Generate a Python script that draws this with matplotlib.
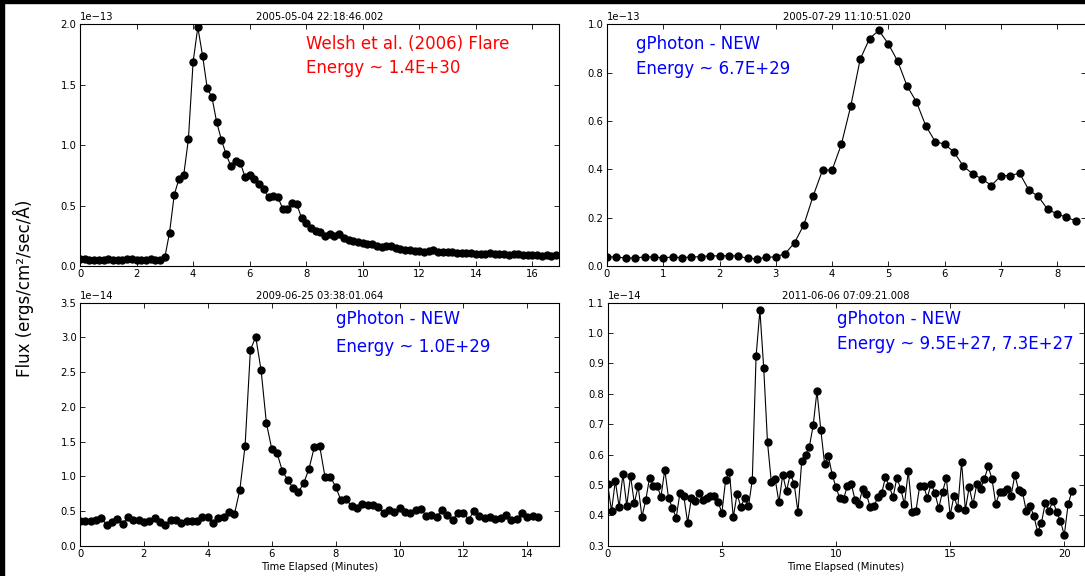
import numpy as np
import matplotlib
matplotlib.use("Agg")
import matplotlib.pyplot as plt
from matplotlib.patches import Rectangle
from matplotlib.ticker import MultipleLocator

# light curves, one point every 10 seconds (time axis in minutes)
cadence_min = 10.0 / 60.0

# 2005-05-04 flare, flux in units of 1e-13
tl_flux = [0.055, 0.058, 0.052, 0.048, 0.050, 0.052, 0.054, 0.050, 0.048, 0.053,
           0.055, 0.054, 0.050, 0.050, 0.052, 0.057, 0.050, 0.052,
           0.072, 0.276, 0.590, 0.720, 0.751, 1.049, 1.689, 1.976, 1.741, 1.471,
           1.396, 1.190, 1.046, 0.924, 0.828, 0.869, 0.855, 0.739, 0.753, 0.717,
           0.679, 0.635, 0.569, 0.582, 0.569, 0.475, 0.469, 0.524, 0.510, 0.400,
           0.353, 0.315, 0.290, 0.279, 0.251,
           0.262, 0.252, 0.262, 0.228, 0.215, 0.208, 0.198, 0.190, 0.186, 0.180,
           0.165, 0.158, 0.162, 0.166, 0.152, 0.140, 0.133, 0.133, 0.128, 0.125,
           0.118, 0.122, 0.130, 0.118, 0.115, 0.113, 0.112, 0.110, 0.108, 0.106,
           0.107, 0.103, 0.102, 0.100, 0.104, 0.100, 0.098, 0.096, 0.094, 0.098,
           0.096, 0.093, 0.090, 0.092, 0.088, 0.085, 0.087, 0.083, 0.088]

# 2005-07-29 flare, flux in units of 1e-13
tr_flux = [0.037, 0.038, 0.032, 0.034, 0.037, 0.038, 0.033, 0.038, 0.034, 0.038,
           0.038, 0.043, 0.041, 0.043, 0.041, 0.032, 0.029, 0.036, 0.038, 0.051,
           0.096, 0.171, 0.291, 0.398, 0.396, 0.504, 0.662, 0.855, 0.941, 0.975,
           0.919, 0.848, 0.745, 0.679, 0.580, 0.515, 0.504, 0.472, 0.413, 0.381,
           0.360, 0.333, 0.373, 0.374, 0.384, 0.314, 0.288, 0.234, 0.216, 0.201,
           0.187]

# 2009-06-25 flare, flux in units of 1e-14
bl_flux = [0.351, 0.351, 0.351, 0.370, 0.403, 0.298, 0.341, 0.389, 0.308, 0.418,
           0.365, 0.370, 0.346, 0.351, 0.403, 0.341, 0.298, 0.375, 0.370, 0.331,
           0.360, 0.360, 0.360, 0.418, 0.408, 0.331, 0.394, 0.418, 0.490, 0.456,
           0.798, 1.440, 2.823, 3.006, 2.530, 1.767, 1.397, 1.335, 1.076, 0.946,
           0.835, 0.773, 0.898, 1.109, 1.421, 1.436, 0.994, 0.994, 0.850, 0.654,
           0.668, 0.568, 0.547, 0.596, 0.582, 0.582, 0.557, 0.466, 0.519, 0.490,
           0.538, 0.490, 0.471, 0.510, 0.533, 0.432, 0.442, 0.418, 0.519, 0.442,
           0.375, 0.476, 0.471, 0.375, 0.505, 0.423, 0.399, 0.408, 0.380, 0.403,
           0.442, 0.375, 0.380, 0.466, 0.418, 0.432, 0.408]

# 2011-06-06 flares, flux in units of 1e-14
br_flux = [0.502, 0.414, 0.513, 0.428, 0.535, 0.432, 0.530, 0.440, 0.496, 0.395,
           0.450, 0.524, 0.497, 0.497, 0.461, 0.550, 0.456, 0.425, 0.392, 0.475,
           0.463, 0.376, 0.456, 0.448, 0.475, 0.451, 0.458, 0.462, 0.464, 0.445,
           0.408, 0.517, 0.542, 0.393, 0.471, 0.427, 0.458, 0.430, 0.517, 0.924,
           1.075, 0.886, 0.640, 0.510, 0.520, 0.443, 0.533, 0.480, 0.537, 0.504,
           0.411, 0.580, 0.599, 0.626, 0.696, 0.809, 0.682, 0.570, 0.595, 0.534,
           0.492, 0.456, 0.455, 0.497, 0.504, 0.451, 0.437, 0.488, 0.470, 0.426,
           0.431, 0.460, 0.473, 0.525, 0.496, 0.459, 0.524, 0.487, 0.437, 0.545,
           0.412, 0.414, 0.497, 0.497, 0.458, 0.504, 0.473, 0.423, 0.478, 0.522,
           0.401, 0.463, 0.424, 0.576, 0.418, 0.493, 0.436, 0.503, 0.487, 0.520,
           0.561, 0.519, 0.437, 0.476, 0.478, 0.487, 0.464, 0.533, 0.483, 0.478,
           0.414, 0.431, 0.398, 0.345, 0.376, 0.440, 0.415, 0.448, 0.411, 0.381,
           0.335, 0.436, 0.480]

titles = ["2005-05-04 22:18:46.002", "2005-07-29 11:10:51.020",
          "2009-06-25 03:38:01.064", "2011-06-06 07:09:21.008"]
notes = [("Welsh et al. (2006) Flare", "Energy ~ 1.4E+30"),
         ("gPhoton - NEW", "Energy ~ 6.7E+29"),
         ("gPhoton - NEW", "Energy ~ 1.0E+29"),
         ("gPhoton - NEW", "Energy ~ 9.5E+27, 7.3E+27")]
note_colors = ["red", "blue", "blue", "blue"]

W, H = 1085, 576
fig = plt.figure(figsize=(W / 100, H / 100), dpi=100)


def px_axes(left, top, right, bottom):
    return fig.add_axes([left / W, 1 - bottom / H, (right - left) / W, (bottom - top) / H])


panels = [
    # flux, exponent, axes box (px), xlim, ylim, xstep, ystep, note positions
    (tl_flux, -13, (80, 24.3, 559.3, 266), (0, 16.95), (0, 2.0), 2, 0.5,
     (0.4715, 0.897, 0.797)),
    (tr_flux, -13, (607, 24.3, 1086.3, 266), (0, 8.52), (0, 1.0), 1, 0.2,
     (0.0604, 0.897, 0.794)),
    (bl_flux, -14, (80, 302.7, 559.3, 545.7), (0, 15.0), (0, 3.5), 2, 0.5,
     (0.5335, 0.911, 0.798)),
    (br_flux, -14, (607.7, 302.7, 1083.7, 545.7), (0, 20.85), (0.3, 1.1), 5, 0.1,
     (0.481, 0.911, 0.811)),
]

for k, (flux, expo, box, xlim, ylim, xstep, ystep, npos) in enumerate(panels):
    ax = px_axes(*box)
    scale = 10.0 ** expo
    flux = np.array(flux) * scale
    t = np.arange(len(flux)) * cadence_min
    ax.plot(t, flux, "-o", color="black", lw=0.8, ms=5, mec="black", mfc="black")
    ax.set_xlim(*xlim)
    ax.set_ylim(ylim[0] * scale, ylim[1] * scale)
    ax.xaxis.set_major_locator(MultipleLocator(xstep))
    ax.yaxis.set_major_locator(MultipleLocator(ystep * scale))
    ax.ticklabel_format(axis="y", style="sci", scilimits=(expo, expo))
    ax.tick_params(direction="in", top=True, right=True, length=3.5, width=0.6,
                   labelsize=7.2, pad=2.5)
    ax.yaxis.get_offset_text().set_fontsize(7.2)
    for s in ax.spines.values():
        s.set_linewidth(0.8)
    ax.set_title(titles[k], fontsize=7.2, pad=3)
    if k >= 2:
        ax.set_xlabel("Time Elapsed (Minutes)", fontsize=7.2, labelpad=2)
    ax.text(npos[0], npos[1], notes[k][0], transform=ax.transAxes, color=note_colors[k],
            fontsize=12, ha="left", va="baseline")
    ax.text(npos[0], npos[2], notes[k][1], transform=ax.transAxes, color=note_colors[k],
            fontsize=12, ha="left", va="baseline")

fig.text(23 / W, 0.5, "Flux (ergs/cm²/sec/Å)", rotation=90, fontsize=12,
         ha="center", va="center")

# dark frame left over from the screen grab
fig.add_artist(Rectangle((0, 1 - 3 / H), 1, 3 / H, transform=fig.transFigure,
                         color="black", zorder=10))
fig.add_artist(Rectangle((0, 0), 3.5 / W, 1, transform=fig.transFigure,
                         color="black", zorder=10))

fig.savefig("out.png", dpi=100)
